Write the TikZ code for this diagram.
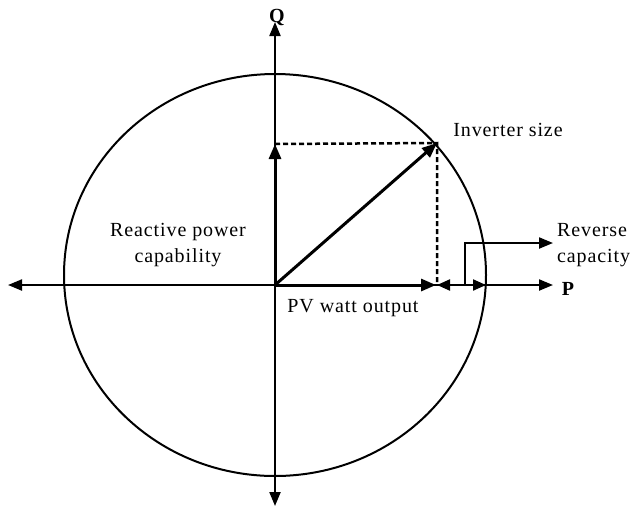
\documentclass[tikz,border=0pt]{standalone}
\usepackage{fontspec}
\setmainfont{Liberation Serif}[LetterSpace=4.5]
\usetikzlibrary{arrows.meta}
\begin{document}
\begin{tikzpicture}[x=1pt,y=-1pt,
  axis/.style={line width=2.1pt,-{Triangle[length=14pt,width=11pt]}},
  vec/.style={line width=3pt,-{Triangle[length=15pt,width=12pt]}},
  dashline/.style={line width=2.5pt,dash pattern=on 5pt off 3pt},
  lbl/.style={font=\fontsize{20}{26}\selectfont,inner sep=0pt},
  axlbl/.style={font=\fontsize{20}{26}\selectfont\bfseries,inner sep=0pt}]
\useasboundingbox (0,0) rectangle (631,515);
\coordinate (O) at (275,285);
\coordinate (C) at (275,275);
\coordinate (L) at (8,285);
\coordinate (R) at (553,285);
\coordinate (U) at (275,22);
\coordinate (D) at (275,506);
\coordinate (QT) at (275,144);
\coordinate (S) at (437,143);
\coordinate (PT) at (437,285);
\coordinate (E) at (486,285);
\coordinate (B1) at (465,285);
\coordinate (B2) at (465,243);
\coordinate (B3) at (553,243);
% circle
\draw[line width=2pt] (C) ellipse [x radius=211pt, y radius=201pt];
% axes
\draw[axis] (O) -- (L);
\draw[axis] (O) -- (R);
\draw[axis] (O) -- (U);
\draw[axis] (O) -- (D);
% dashed
\draw[dashline] (QT) -- (S) -- (PT);
% vectors
\draw[vec] (O) -- (QT);
\draw[vec] (O) -- (S);
\draw[vec,shorten >=1pt] (O) -- (PT);
% double arrow
\draw[line width=2.1pt,{Triangle[length=13pt,width=11pt]}-{Triangle[length=13pt,width=11pt]}] (PT) -- (E);
% bracket
\draw[line width=2.1pt,-{Triangle[length=14pt,width=11pt]}] (B1) -- (B2) -- (B3);
% labels
\node[axlbl] (q) at (277,17) {Q};
\node[axlbl] (p) at (568,289) {P};
\node[lbl] (inv) at (508,130) {Inverter size};
\node[lbl,align=center] (rpc) at (178,245) {Reactive power\\capability};
\node[lbl] (pv) at (353,308) {PV watt output};
\node[lbl,align=left,anchor=west] (rev) at (557,245) {Reverse\\capacity};
\end{tikzpicture}
\end{document}
